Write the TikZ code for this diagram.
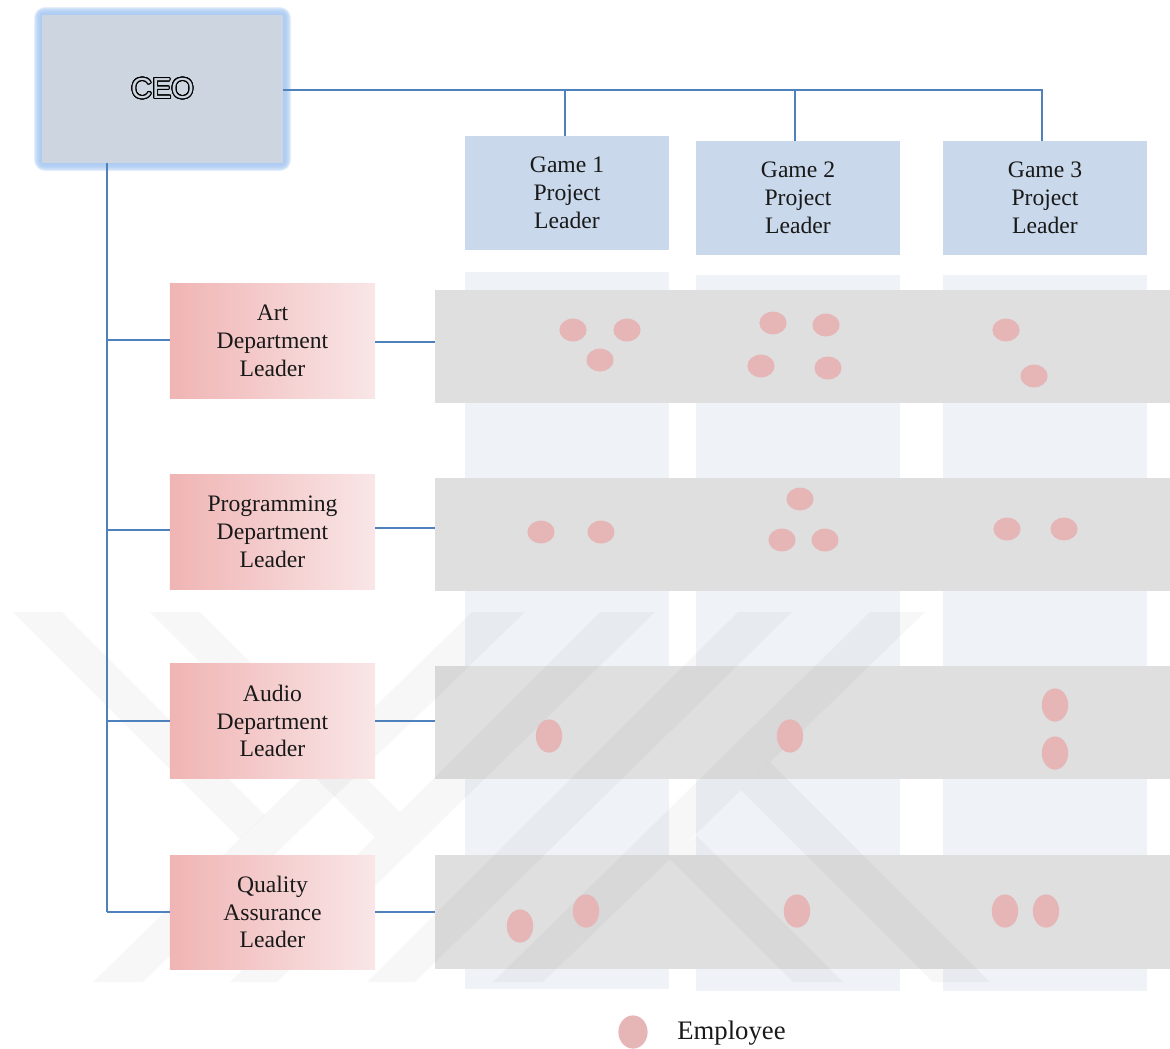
\documentclass[tikz,border=0pt]{standalone}
\usepackage{fontspec}
\setmainfont{Liberation Serif}
\newfontfamily\ceofont{Liberation Sans}
\usepackage[copies]{contour}
\contourlength{0.7pt}
\contournumber{24}
\usetikzlibrary{shapes.geometric}

\definecolor{linkblue}{HTML}{4F81BD}
\definecolor{ceofill}{HTML}{CDD5E0}
\definecolor{ceoglow}{HTML}{A9C9F2}
\definecolor{gamefill}{HTML}{C9D8EB}
\definecolor{colfill}{HTML}{EFF3F8}
\definecolor{rowfill}{HTML}{DFDFE0}
\definecolor{deptL}{HTML}{F0B4B4}
\definecolor{deptR}{HTML}{F9E6E7}
\definecolor{empfill}{HTML}{E6B5B6}

\begin{document}
\begin{tikzpicture}[x=0.025cm,y=-0.025cm,
  txt/.style={font=\fontsize{16.8}{19.8}\selectfont, align=center, text=black!90},
  link/.style={draw=linkblue, line width=1.3pt},
  gamebox/.style={txt, fill=gamefill, minimum width=5.1cm, minimum height=2.85cm, inner sep=0pt},
  deptbox/.style={txt, left color=deptL, right color=deptR, minimum width=5.125cm, minimum height=2.85cm, inner sep=0pt},
  column/.style={fill=colfill, minimum width=5.1cm, minimum height=17.9cm, inner sep=0pt},
  row/.style={fill=rowfill, minimum width=18.375cm, minimum height=2.83cm, inner sep=0pt},
  emp/.style={fill=empfill, ellipse, inner sep=0pt},
  empw/.style={emp, minimum width=0.68cm, minimum height=0.57cm},
  empt/.style={emp, minimum width=0.66cm, minimum height=0.83cm},
  emblem/.style={fill=black, opacity=0.032}
]
\useasboundingbox (0,0) rectangle (1170,1048);

% project columns
\node[column] (col1) at (567,630.5) {};
\node[column] (col2) at (798,633) {};
\node[column] (col3) at (1045,633) {};

% department rows
\node[row] (row1) at (802.5,346.5) {};
\node[row] (row2) at (802.5,534.5) {};
\node[row] (row3) at (802.5,722.5) {};
\node[row] (row4) at (802.5,912) {};

% faint emblem behind the leader boxes
\fill[emblem] (472,612) -- (525,612) -- (143,982) -- (93,982) -- cycle;
\fill[emblem] (600,612) -- (655,612) -- (277,982) -- (230,982) -- cycle;
\fill[emblem] (738,612) -- (792,612) -- (415,982) -- (367,982) -- cycle;
\fill[emblem] (870,612) -- (925,612) -- (543,982) -- (493,982) -- cycle;
\fill[emblem] (13,612) -- (62,612) -- (265,815) -- (240,839) -- cycle;
\fill[emblem] (150,612) -- (200,612) -- (400,812) -- (375,837) -- cycle;
\fill[emblem] (670,859) -- (696,835) -- (843,982) -- (793,982) -- cycle;
\fill[emblem] (741,790) -- (770,762) -- (990,982) -- (933,982) -- cycle;

% CEO box with soft glow
\foreach \d in {1,...,8}
  \fill[ceoglow, opacity=0.3, rounded corners=\d] (42-\d,15-\d) rectangle (283+\d,163+\d);
\node[fill=ceofill, minimum width=6.0cm, minimum height=3.675cm, inner sep=0pt] (ceo) at (162.5,89)
  {\ceofont\fontsize{20.6}{24}\selectfont\contour{black}{\color{ceofill}CEO}};

% project leaders
\node[gamebox] (g1) at (567,193) {Game 1\\Project\\Leader};
\node[gamebox] (g2) at (798,198) {Game 2\\Project\\Leader};
\node[gamebox] (g3) at (1045,198) {Game 3\\Project\\Leader};

% department leaders
\node[deptbox] (d1) at (272.5,341) {Art\\Department\\Leader};
\node[deptbox] (d2) at (272.5,532) {Programming\\Department\\Leader};
\node[deptbox] (d3) at (272.5,721) {Audio\\Department\\Leader};
\node[deptbox] (d4) at (272.5,912) {Quality\\Assurance\\Leader};

% reporting lines
\coordinate (bus) at (1042,90);
\draw[link] (ceo.east |- 0,90) -- (bus) -- (bus |- g3.north);
\draw[link] (565,90) -- (565,0 |- g1.north);
\draw[link] (795,90) -- (795,0 |- g2.north);
\coordinate (trunk) at (107,0 |- ceo.south);
\draw[link] (trunk) -- (107,912);
\draw[link] (107,340) -- (d1.west |- 0,340);
\draw[link] (107,530) -- (d2.west |- 0,530);
\draw[link] (107,721) -- (d3.west |- 0,721);
\draw[link] (107,912) -- (d4.west |- 0,912);
\draw[link] (d1.east |- 0,342) -- (row1.west |- 0,342);
\draw[link] (d2.east |- 0,528) -- (row2.west |- 0,528);
\draw[link] (d3.east |- 0,721) -- (row3.west |- 0,721);
\draw[link] (d4.east |- 0,912) -- (row4.west |- 0,912);

% employees: art
\node[empw] (a1) at (573,330) {};
\node[empw] (a2) at (627,330) {};
\node[empw] (a3) at (600,360) {};
\node[empw] (a4) at (773,323) {};
\node[empw] (a5) at (826,325) {};
\node[empw] (a6) at (761,366) {};
\node[empw] (a7) at (828,368) {};
\node[empw] (a8) at (1006,330) {};
\node[empw] (a9) at (1034,376) {};
% employees: programming
\node[empw] (p1) at (541,532) {};
\node[empw] (p2) at (601,532) {};
\node[empw] (p3) at (800,499) {};
\node[empw] (p4) at (782,540) {};
\node[empw] (p5) at (825,540) {};
\node[empw] (p6) at (1007,529) {};
\node[empw] (p7) at (1064,529) {};
% employees: audio
\node[empt] (u1) at (549,736) {};
\node[empt] (u2) at (790,736) {};
\node[empt] (u3) at (1055,705) {};
\node[empt] (u4) at (1055,753) {};
% employees: quality assurance
\node[empt] (q1) at (520,926) {};
\node[empt] (q2) at (586,911) {};
\node[empt] (q3) at (797,911) {};
\node[empt] (q4) at (1005,911) {};
\node[empt] (q5) at (1046,911) {};

% legend
\node[emp, minimum width=0.73cm, minimum height=0.83cm] (lg) at (633,1032) {};
\node[txt, font=\fontsize{19}{22}\selectfont, anchor=west, inner sep=0pt] (lgt) at (677,1033) {Employee};
\end{tikzpicture}
\end{document}
